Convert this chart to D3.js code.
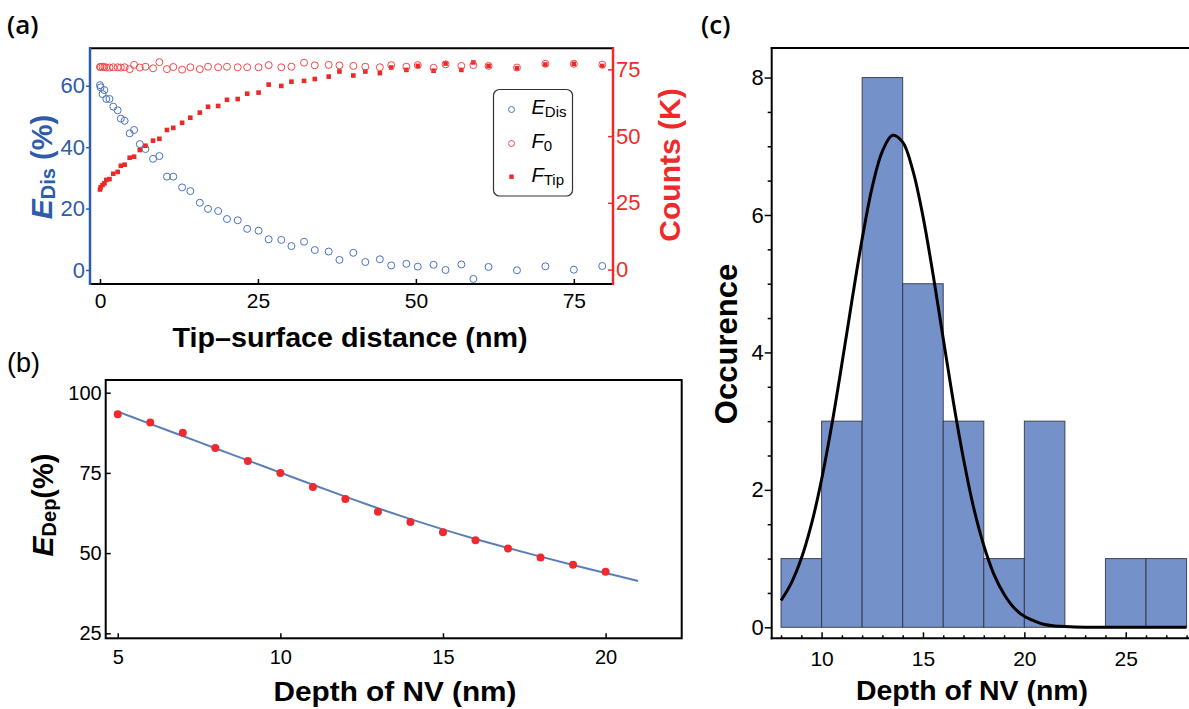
<!DOCTYPE html>
<html>
<head>
<meta charset="utf-8">
<script src="https://cdn.jsdelivr.net/npm/d3@7"></script>
<style>
  body { margin: 0; background: #fff; }
  svg { display: block; }
</style>
</head>
<body>
<svg id="fig" width="1189" height="709"></svg>
<script>
// ---- data ----

// (a) tip-surface distance (nm) and the three measured series
var distance = [0, 0.1, 0.4, 0.7, 1.0, 1.5, 2.1, 2.8, 3.3, 3.9, 4.7, 5.4, 6.3, 7.2, 8.4, 9.4,
  10.6, 11.6, 13.0, 14.3, 15.8, 17.1, 18.7, 20.1, 21.8, 23.3, 25.1, 26.7, 28.7, 30.3, 32.3,
  34.0, 36.2, 37.9, 40.1, 42.0, 44.3, 46.1, 48.5, 50.3, 52.8, 54.7, 57.2, 59.1, 61.5, 66.0,
  70.5, 75.0, 79.5];
var eDis = [60.2, 59.5, 57.3, 58.6, 55.7, 55.7, 53.2, 52.0, 49.3, 48.6, 44.5, 45.6, 41.0, 39.4,
  36.2, 37.1, 30.4, 30.4, 26.9, 25.7, 21.9, 19.9, 19.2, 16.6, 16.2, 13.4, 12.8, 10.0, 9.8,
  7.8, 9.2, 6.5, 6.0, 3.3, 5.6, 2.6, 3.5, 1.5, 2.0, 1.1, 1.7, 0.0, 1.8, -2.9, 1.0, -0.1,
  1.2, 0.1, 1.3];
var f0 = [75.9, 75.9, 76.0, 75.9, 75.7, 75.7, 75.8, 75.8, 75.7, 75.8, 75.1, 76.7, 75.7, 76.0,
  75.4, 77.7, 75.1, 75.9, 74.9, 75.8, 75.1, 76.0, 75.8, 76.0, 75.8, 75.8, 75.8, 76.6, 75.8,
  76.0, 77.5, 76.5, 76.7, 76.5, 76.3, 76.0, 75.8, 76.6, 76.0, 76.6, 75.6, 76.9, 76.3, 76.6,
  76.3, 75.7, 77.1, 77.1, 76.8];
var fTip = [30.0, 30.8, 31.7, 32.3, 33.6, 33.9, 35.9, 36.6, 38.9, 39.3, 41.9, 42.3, 44.8, 46.4,
  48.3, 49.0, 52.3, 53.1, 55.0, 56.9, 58.8, 61.0, 61.3, 63.6, 63.9, 65.9, 66.3, 69.3, 68.8,
  70.4, 70.7, 71.4, 72.3, 74.2, 72.7, 74.2, 73.6, 75.7, 74.8, 76.3, 74.5, 77.2, 74.8, 77.6,
  76.3, 75.4, 76.8, 77.1, 76.3];

// (b) depletion efficiency vs NV depth
var depth = [5, 6, 7, 8, 9, 10, 11, 12, 13, 14, 15, 16, 17, 18, 19, 20];
var eDep = [93.3, 90.7, 87.5, 82.8, 78.7, 75.0, 70.6, 66.9, 62.9, 59.7, 56.5, 54.0, 51.4,
  48.6, 46.4, 44.2];
var fitDepth = [5, 6, 7, 8, 9, 10, 11, 12, 13, 14, 15, 16, 17, 18, 19, 20, 21];
var fitDep = [94.1, 90.3, 86.5, 82.7, 78.9, 75.1, 71.3, 67.6, 64.0, 60.6, 57.4, 54.4, 51.6,
  48.9, 46.3, 43.8, 41.3];

// (c) histogram of NV depths (2 nm bins) and the fitted curve
var binStart = [8, 10, 12, 14, 16, 18, 20, 22, 24, 26];
var binCount = [1, 3, 8, 5, 3, 1, 3, 0, 1, 1];
var curveX = [8, 8.5, 9, 9.5, 10, 10.5, 11, 11.5, 12, 12.5, 13, 13.5, 14, 14.5, 15, 15.5, 16,
  16.5, 17, 17.5, 18, 18.5, 19, 19.5, 20, 20.5, 21, 21.5, 22, 23, 24, 25, 26, 27, 28];
var curveY = [0.39, 0.64, 1.00, 1.50, 2.15, 2.94, 3.83, 4.76, 5.65, 6.41, 6.93, 7.16, 7.06,
  6.65, 5.98, 5.13, 4.20, 3.28, 2.45, 1.74, 1.19, 0.77, 0.48, 0.28, 0.16, 0.09, 0.04, 0.02,
  0.01, 0, 0, 0, 0, 0, 0];

var aTicksX = [0, 25, 50, 75];
var aTicksL = [0, 20, 40, 60];
var aTicksR = [0, 25, 50, 75];
var bTicksX = [5, 10, 15, 20];
var bTicksY = [25, 50, 75, 100];
var cTicksX = [10, 15, 20, 25];
var cTicksY = [0, 2, 4, 6, 8];

// ---- styles ----
var FONT = '"Liberation Sans", Arial, sans-serif';
var BLUE = "#2d5caa";
var BLUE_MK = "#4a72c0";
var RED = "#f02a2a";
var RED_MK = "#f04a4a";

var svg = d3.select("#fig");

function styleAxis(g, color, size) {
  g.select(".domain").remove();
  g.selectAll(".tick line").attr("stroke", color).attr("stroke-width", 1.5);
  g.selectAll(".tick text")
    .attr("fill", color)
    .style("font-family", FONT)
    .style("font-size", size + "px");
  return g;
}

function frameLine(x1, y1, x2, y2, color, w) {
  svg.append("line")
    .attr("x1", x1).attr("y1", y1).attr("x2", x2).attr("y2", y2)
    .attr("stroke", color).attr("stroke-width", w);
}

function vLabel(x, y, parts, color) {
  var t = svg.append("text")
    .attr("transform", "translate(" + x + "," + y + ") rotate(-90)")
    .attr("text-anchor", "middle")
    .attr("fill", color)
    .style("font-family", FONT)
    .style("font-weight", "bold");
  parts.forEach(function(p) {
    t.append("tspan")
      .attr("dy", p.dy || 0)
      .style("font-size", p.size + "px")
      .style("font-style", p.italic ? "italic" : "normal")
      .text(p.text);
  });
  return t;
}

// ================= panel (a) =================
var xA = d3.scaleLinear().domain([-1.58, 81.2]).range([90, 613]);
var yA = d3.scaleLinear().domain([-4.56, 72.2]).range([284, 48.3]);
var yA2 = d3.scaleLinear().domain([-5.4, 82.9]).range([284, 48.3]);

styleAxis(svg.append("g")
  .attr("transform", "translate(0,284)")
  .call(d3.axisBottom(xA).tickValues(aTicksX).tickSize(-5).tickPadding(9)), "#000", 21);

styleAxis(svg.append("g")
  .attr("transform", "translate(90,0)")
  .call(d3.axisLeft(yA).tickValues(aTicksL).tickSize(4).tickPadding(1)), BLUE, 22);

styleAxis(svg.append("g")
  .attr("transform", "translate(613,0)")
  .call(d3.axisRight(yA2).tickValues(aTicksR).tickSize(-5).tickPadding(3)), RED, 22);

frameLine(89, 48.3, 614, 48.3, "#000", 2);
frameLine(89, 284, 614, 284, "#000", 2);
frameLine(90, 47.3, 90, 285, BLUE, 2.5);
frameLine(613, 47.3, 613, 285, RED, 2.5);

var ptsA = distance.map(function(d, i) {
  return { x: d, e: eDis[i], f0: f0[i], ft: fTip[i] };
});

svg.append("g").selectAll("circle")
  .data(ptsA).enter().append("circle")
  .attr("cx", function(d) { return xA(d.x); })
  .attr("cy", function(d) { return yA(d.e); })
  .attr("r", 3.5)
  .attr("fill", "none")
  .attr("stroke", BLUE_MK)
  .attr("stroke-width", 1);

svg.append("g").selectAll("rect")
  .data(ptsA).enter().append("rect")
  .attr("x", function(d) { return xA(d.x) - 2.3; })
  .attr("y", function(d) { return yA2(d.ft) - 2.3; })
  .attr("width", 4.6).attr("height", 4.6)
  .attr("fill", "#ec2828");

svg.append("g").selectAll("circle")
  .data(ptsA).enter().append("circle")
  .attr("cx", function(d) { return xA(d.x); })
  .attr("cy", function(d) { return yA2(d.f0); })
  .attr("r", 3.5)
  .attr("fill", "none")
  .attr("stroke", RED_MK)
  .attr("stroke-width", 1);

// legend
svg.append("rect")
  .attr("x", 493.5).attr("y", 89.5).attr("width", 79).attr("height", 106.5)
  .attr("rx", 6).attr("fill", "#fff").attr("stroke", "#333").attr("stroke-width", 1.2);
svg.append("circle").attr("cx", 511.5).attr("cy", 109.5).attr("r", 3)
  .attr("fill", "none").attr("stroke", BLUE_MK).attr("stroke-width", 1);
svg.append("circle").attr("cx", 511.5).attr("cy", 143.5).attr("r", 3)
  .attr("fill", "none").attr("stroke", RED_MK).attr("stroke-width", 1);
svg.append("rect").attr("x", 509.3).attr("y", 174.5).attr("width", 4.4).attr("height", 4.4)
  .attr("fill", "#ec2828");

[["E", "Dis", 113.5], ["F", "0", 147.5], ["F", "Tip", 181.5]].forEach(function(l) {
  var t = svg.append("text").attr("x", 531.5).attr("y", l[2])
    .style("font-family", FONT).attr("fill", "#000");
  t.append("tspan").style("font-size", "20px").style("font-style", "italic").text(l[0]);
  t.append("tspan").attr("dy", 3).style("font-size", "15px").text(l[1]);
});

// axis titles (a)
svg.append("text")
  .attr("x", 350).attr("y", 347).attr("text-anchor", "middle")
  .attr("textLength", 355).attr("lengthAdjust", "spacingAndGlyphs")
  .style("font-family", FONT).style("font-weight", "bold").style("font-size", "28px")
  .text("Tip\u2013surface distance (nm)");

vLabel(52, 167, [
  { text: "E", size: 30, italic: true },
  { text: "Dis", size: 20, dy: 3 },
  { text: " (%)", size: 29, dy: -3 }
], BLUE);

vLabel(680, 165, [{ text: "Counts (K)", size: 30 }], RED);

// ================= panel (b) =================
var xB = d3.scaleLinear().domain([4.63, 22.34]).range([105.7, 681.7]);
var yB = d3.scaleLinear().domain([23.44, 103.96]).range([638.3, 380]);

styleAxis(svg.append("g")
  .attr("transform", "translate(0,638.3)")
  .call(d3.axisBottom(xB).tickValues(bTicksX).tickSize(-5).tickPadding(12)), "#000", 20);

styleAxis(svg.append("g")
  .attr("transform", "translate(105.7,0)")
  .call(d3.axisLeft(yB).tickValues(bTicksY).tickSize(-5).tickPadding(4)), "#000", 20);

svg.append("rect")
  .attr("x", 105.7).attr("y", 380).attr("width", 576).attr("height", 258.3)
  .attr("fill", "none").attr("stroke", "#000").attr("stroke-width", 2);

var fitLine = d3.line()
  .x(function(d) { return xB(d[0]); })
  .y(function(d) { return yB(d[1]); })
  .curve(d3.curveMonotoneX);

svg.append("path")
  .datum(fitDepth.map(function(d, i) { return [d, fitDep[i]]; }))
  .attr("d", fitLine)
  .attr("fill", "none")
  .attr("stroke", "#5a7fb8")
  .attr("stroke-width", 2);

svg.append("g").selectAll("circle")
  .data(depth.map(function(d, i) { return [d, eDep[i]]; }))
  .enter().append("circle")
  .attr("cx", function(d) { return xB(d[0]); })
  .attr("cy", function(d) { return yB(d[1]); })
  .attr("r", 4)
  .attr("fill", "#ee2a2e");

svg.append("text")
  .attr("x", 395).attr("y", 701).attr("text-anchor", "middle")
  .attr("textLength", 243).attr("lengthAdjust", "spacingAndGlyphs")
  .style("font-family", FONT).style("font-weight", "bold").style("font-size", "27px")
  .text("Depth of NV (nm)");

vLabel(53, 505, [
  { text: "E", size: 30, italic: true },
  { text: "Dep", size: 20, dy: 3 },
  { text: "(%)", size: 29, dy: -3 }
], "#000");

// ================= panel (c) =================
var xC = d3.scaleLinear().domain([7.54, 28.12]).range([771.7, 1189]);
var yC = d3.scaleLinear().domain([-0.16, 8.43]).range([638.3, 48]);

var minorY = d3.range(0, 8.5, 0.5).filter(function(v) { return v % 2 !== 0; });
var minorX = d3.range(8, 29, 1).filter(function(v) { return v % 5 !== 0; });

styleAxis(svg.append("g")
  .attr("transform", "translate(0,638.3)")
  .call(d3.axisBottom(xC).tickValues(cTicksX).tickSize(-6).tickPadding(13)), "#000", 21);
styleAxis(svg.append("g")
  .attr("transform", "translate(0,638.3)")
  .call(d3.axisBottom(xC).tickValues(minorX).tickSize(-3).tickFormat("")), "#000", 21);

styleAxis(svg.append("g")
  .attr("transform", "translate(771.7,0)")
  .call(d3.axisLeft(yC).tickValues(cTicksY).tickSize(7).tickPadding(1)), "#000", 22);
styleAxis(svg.append("g")
  .attr("transform", "translate(771.7,0)")
  .call(d3.axisLeft(yC).tickValues(minorY).tickSize(4).tickFormat("")), "#000", 22);

svg.append("g").selectAll("rect")
  .data(binStart.map(function(b, i) { return { b: b, n: binCount[i] }; })
    .filter(function(d) { return d.n > 0; }))
  .enter().append("rect")
  .attr("x", function(d) { return xC(d.b); })
  .attr("y", function(d) { return yC(d.n); })
  .attr("width", function(d) { return xC(d.b + 2) - xC(d.b); })
  .attr("height", function(d) { return yC(0) - yC(d.n); })
  .attr("fill", "#7591c9")
  .attr("stroke", "#2b3040")
  .attr("stroke-opacity", 0.85)
  .attr("stroke-width", 1);

var gaussLine = d3.line()
  .x(function(d) { return xC(d[0]); })
  .y(function(d) { return yC(d[1]); })
  .curve(d3.curveCatmullRom);

svg.append("path")
  .datum(curveX.map(function(d, i) { return [d, curveY[i]]; }))
  .attr("d", gaussLine)
  .attr("fill", "none")
  .attr("stroke", "#000")
  .attr("stroke-width", 3);

frameLine(770.7, 48, 1189, 48, "#000", 2);
frameLine(770.7, 638.3, 1189, 638.3, "#000", 2);
frameLine(771.7, 47, 771.7, 639.3, "#000", 2);

svg.append("text")
  .attr("x", 972).attr("y", 700).attr("text-anchor", "middle")
  .attr("textLength", 232).attr("lengthAdjust", "spacingAndGlyphs")
  .style("font-family", FONT).style("font-weight", "bold").style("font-size", "27px")
  .text("Depth of NV (nm)");

vLabel(737, 344, [{ text: "Occurence", size: 31 }], "#000");

// ---- panel letters ----
svg.append("text").attr("x", 7).attr("y", 34)
  .style("font-family", '"Open Sans", sans-serif').style("font-weight", 600)
  .style("font-size", "26px").text("(a)");
svg.append("text").attr("x", 7).attr("y", 372)
  .style("font-family", FONT).style("font-size", "27px").text("(b)");
svg.append("text").attr("x", 701).attr("y", 34)
  .style("font-family", '"Open Sans", sans-serif').style("font-weight", 600)
  .style("font-size", "26px").text("(c)");
</script>
</body>
</html>
